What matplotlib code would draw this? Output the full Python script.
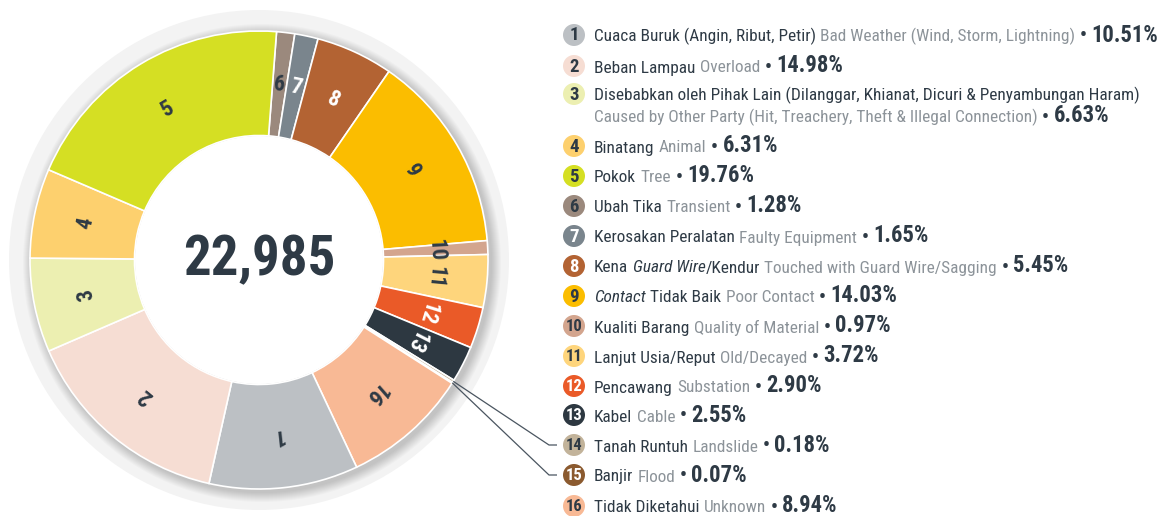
import matplotlib
matplotlib.use("Agg")
import matplotlib.pyplot as plt
from matplotlib.patches import Circle
from matplotlib import font_manager as fm
import numpy as np

W, H = 1165, 516

# legend / category data (1..16)
ids = list(range(1, 17))
malay = ["Cuaca Buruk (Angin, Ribut, Petir)", "Beban Lampau",
         "Disebabkan oleh Pihak Lain (Dilanggar, Khianat, Dicuri & Penyambungan Haram)",
         "Binatang", "Pokok", "Ubah Tika", "Kerosakan Peralatan",
         "Kena *Guard Wire*/Kendur", "*Contact* Tidak Baik", "Kualiti Barang",
         "Lanjut Usia/Reput", "Pencawang", "Kabel", "Tanah Runtuh", "Banjir",
         "Tidak Diketahui"]
english = ["Bad Weather (Wind, Storm, Lightning)", "Overload",
           "Caused by Other Party (Hit, Treachery, Theft & Illegal Connection)",
           "Animal", "Tree", "Transient", "Faulty Equipment",
           "Touched with Guard Wire/Sagging", "Poor Contact", "Quality of Material",
           "Old/Decayed", "Substation", "Cable", "Landslide", "Flood", "Unknown"]
percents = [10.51, 14.98, 6.63, 6.31, 19.76, 1.28, 1.65, 5.45, 14.03, 0.97,
            3.72, 2.90, 2.55, 0.18, 0.07, 8.94]
colors = ["#bcc0c4", "#f6ddd3", "#ecefb1", "#fdd06e", "#d5df23", "#9b897d",
          "#7a858d", "#b36333", "#fbbd00", "#d3a58e", "#fed57c", "#ea5a28",
          "#2d3841", "#c2b39a", "#8b5a2f", "#f8b995"]
light_num = [7, 8, 12, 13, 15]   # numbers printed in white
# order of slices clockwise from just right of 12 o'clock
slice_order = [6, 7, 8, 9, 10, 11, 12, 13, 14, 15, 16, 1, 2, 3, 4, 5]
total_label = "22,985"

DARK = "#2e3a45"
GREY = "#8c9399"

# pick a narrow font if one is installed
entries = fm.fontManager.ttflist
names = {f.name for f in entries}
STRETCH = "normal"
if "Roboto Condensed" in names:
    FONT = "Roboto Condensed"
elif "Liberation Sans Narrow" in names:
    FONT = "Liberation Sans Narrow"
elif any(f.name == "DejaVu Sans" and "condensed" in str(f.stretch) for f in entries):
    FONT = "DejaVu Sans"
    STRETCH = "condensed"
else:
    FONT = "Liberation Sans"
plt.rcParams["font.family"] = [FONT, "DejaVu Sans"]
plt.rcParams["font.stretch"] = STRETCH

fig = plt.figure(figsize=(W / 100, H / 100), dpi=100)
ax = fig.add_axes([0, 0, 1, 1])

cx, cy = 259, H - 260
R_out, R_in = 229, 124.5

# grey halo + soft drop shadow
ax.add_patch(Circle((cx, cy), 250, color="#f3f3f3", lw=0, zorder=0))
for k in range(10):
    ax.add_patch(Circle((cx + 3, cy - 3), R_out + 10 - k, color="black",
                        alpha=0.018, lw=0, zorder=0.5))

vals = [percents[i - 1] for i in slice_order]
wedges, _ = ax.pie(vals, colors=[colors[i - 1] for i in slice_order],
                   startangle=90 - 4.4, counterclock=False, radius=R_out,
                   center=(cx, cy),
                   wedgeprops=dict(width=R_out - R_in, edgecolor="white",
                                   linewidth=1.2))
for w in wedges:
    w.set_zorder(2)
ax.add_patch(Circle((cx, cy), R_in - 0.5, color="white", lw=0, zorder=2.5))

r_lab = (R_out + R_in) / 2
for w, n in zip(wedges, slice_order):
    mid = np.deg2rad((w.theta1 + w.theta2) / 2)
    if n in (14, 15):
        # leader line out to the legend
        x0 = cx + R_out * np.cos(mid)
        y0 = cy + R_out * np.sin(mid)
        ly = H - (445 if n == 14 else 475)
        ax.plot([x0, 549, 557], [y0, ly, ly], color="#4a5560", lw=0.9,
                zorder=3, solid_capstyle="butt")
        continue
    tx = cx + r_lab * np.cos(mid)
    ty = cy + r_lab * np.sin(mid)
    ax.text(tx, ty, str(n), rotation=np.rad2deg(mid) - 90,
            rotation_mode="anchor", ha="center", va="center",
            fontsize=16, fontweight="bold",
            color="white" if n in light_num else DARK, zorder=4)

ax.text(cx, cy, total_label, ha="center", va="center", fontsize=39.5,
        fontweight="bold", color=DARK, zorder=4)

ax.set_xlim(0, W)
ax.set_ylim(0, H)
ax.set_aspect("equal")
ax.axis("off")

# legend
renderer = fig.canvas.get_renderer()
row_y = [35, 66, 94, 146, 176, 206, 236, 266, 296, 326, 356, 386, 415, 445, 475, 506]
x_circ, x_text = 574, 594
fs, fs_pct = 12.4, 16.3
gap = 4.5


def put(x, y, s, **kw):
    t = ax.text(x, y, s, va="baseline", ha="left", zorder=4, **kw)
    return x + t.get_window_extent(renderer=renderer).width


for n, yp, ml, en, p in zip(ids, row_y, malay, english, percents):
    ax.add_patch(Circle((x_circ, H - yp), 11, color=colors[n - 1], lw=0, zorder=3))
    ax.text(x_circ, H - yp - 0.5, str(n), ha="center", va="center",
            fontsize=13.5 if n < 10 else 12, fontweight="bold",
            color="white" if n in light_num else DARK, zorder=4)
    base = H - (yp + 6.5)
    x = x_text
    parts = ml.split("*")
    for k, seg in enumerate(parts):
        if not seg:
            continue
        if seg.startswith(" "):
            x += gap
        x = put(x, base, seg.strip(), fontsize=fs, color=DARK,
                style="italic" if k % 2 else "normal")
        if seg.endswith(" "):
            x += gap
    if n == 3:
        x = x_text
        base = H - (116 + 6.5)
    else:
        x += gap
    x = put(x, base, en, fontsize=fs, color=GREY)
    x = put(x + gap, base, "\u2022", fontsize=14, fontweight="bold", color=DARK)
    put(x + gap, base, "%.2f%%" % p, fontsize=fs_pct, fontweight="bold",
        color=DARK)

fig.savefig("out.png", dpi=100)
